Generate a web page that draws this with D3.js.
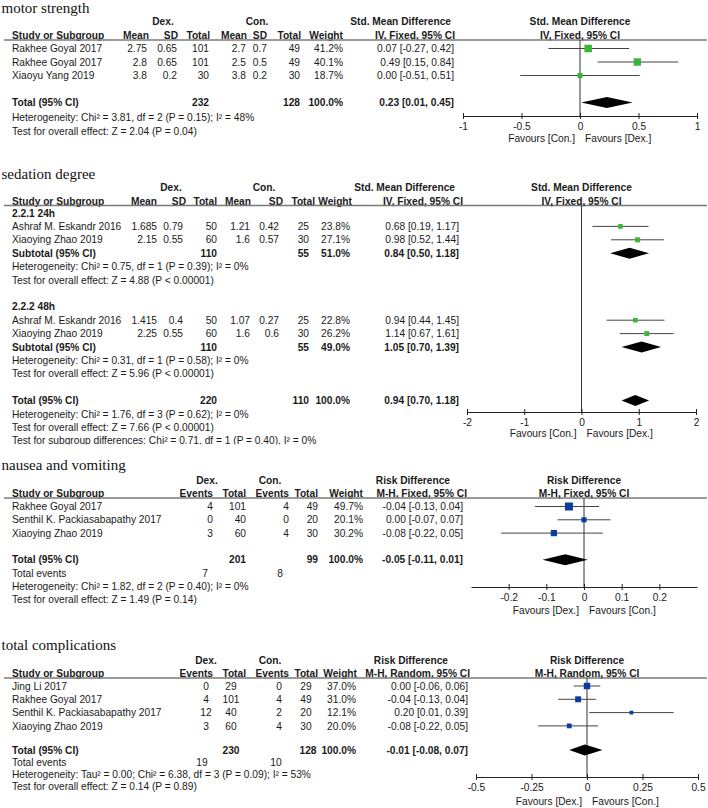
<!DOCTYPE html>
<html>
<head>
<meta charset="utf-8">
<script src="https://cdn.jsdelivr.net/npm/d3@7"></script>
<style>
body { margin: 0; background: #fff; }
svg text { font-family: "Liberation Sans", Arial, sans-serif; font-size: 10.2px; fill: #1a1a1a; }
svg text.title { font-family: "Liberation Serif", "Times New Roman", serif; font-size: 15px; fill: #111; }
</style>
</head>
<body>
<script>
// ---- motor strength (std. mean difference, IV fixed) ----
var msStudy = ["Rakhee Goyal 2017", "Rakhee Goyal 2017", "Xiaoyu Yang 2019"];
var msDexMean = [2.75, 2.8, 3.8];
var msDexSD = [0.65, 0.65, 0.2];
var msDexN = [101, 101, 30];
var msConMean = [2.7, 2.5, 3.8];
var msConSD = [0.7, 0.5, 0.2];
var msConN = [49, 49, 30];
var msWeight = [41.2, 40.1, 18.7];
var msEst = [0.07, 0.49, 0.00];
var msLow = [-0.27, 0.15, -0.51];
var msHigh = [0.42, 0.84, 0.51];
var msTotal = [232, 128, 100.0, 0.23, 0.01, 0.45];
var msNotes = ["Heterogeneity: Chi² = 3.81, df = 2 (P = 0.15); I² = 48%",
               "Test for overall effect: Z = 2.04 (P = 0.04)"];
var msTicks = [-1, -0.5, 0, 0.5, 1];

// ---- sedation degree (subgroups 24h / 48h) ----
var sdGroups = ["2.2.1 24h", "2.2.2 48h"];
var sdStudy = ["Ashraf M. Eskandr 2016", "Xiaoying Zhao 2019", "Ashraf M. Eskandr 2016", "Xiaoying Zhao 2019"];
var sdGroupOf = [0, 0, 1, 1];
var sdDexMean = [1.685, 2.15, 1.415, 2.25];
var sdDexSD = [0.79, 0.55, 0.4, 0.55];
var sdDexN = [50, 60, 50, 60];
var sdConMean = [1.21, 1.6, 1.07, 1.6];
var sdConSD = [0.42, 0.57, 0.27, 0.6];
var sdConN = [25, 30, 25, 30];
var sdWeight = [23.8, 27.1, 22.8, 26.2];
var sdEst = [0.68, 0.98, 0.94, 1.14];
var sdLow = [0.19, 0.52, 0.44, 0.67];
var sdHigh = [1.17, 1.44, 1.45, 1.61];
var sdSubDexN = [110, 110];
var sdSubConN = [55, 55];
var sdSubWeight = [51.0, 49.0];
var sdSubEst = [0.84, 1.05];
var sdSubLow = [0.50, 0.70];
var sdSubHigh = [1.18, 1.39];
var sdSubNotes = [
  ["Heterogeneity: Chi² = 0.75, df = 1 (P = 0.39); I² = 0%", "Test for overall effect: Z = 4.88 (P < 0.00001)"],
  ["Heterogeneity: Chi² = 0.31, df = 1 (P = 0.58); I² = 0%", "Test for overall effect: Z = 5.96 (P < 0.00001)"]
];
var sdTotal = [220, 110, 100.0, 0.94, 0.70, 1.18];
var sdNotes = ["Heterogeneity: Chi² = 1.76, df = 3 (P = 0.62); I² = 0%",
               "Test for overall effect: Z = 7.66 (P < 0.00001)",
               "Test for subgroup differences: Chi² = 0.71, df = 1 (P = 0.40), I² = 0%"];
var sdTicks = [-2, -1, 0, 1, 2];

// ---- nausea and vomiting (risk difference, M-H fixed) ----
var nvStudy = ["Rakhee Goyal 2017", "Senthil K. Packiasabapathy 2017", "Xiaoying Zhao 2019"];
var nvDexEv = [4, 0, 3];
var nvDexN = [101, 40, 60];
var nvConEv = [4, 0, 4];
var nvConN = [49, 20, 30];
var nvWeight = [49.7, 20.1, 30.2];
var nvEst = [-0.04, 0.00, -0.08];
var nvLow = [-0.13, -0.07, -0.22];
var nvHigh = [0.04, 0.07, 0.05];
var nvTotal = [201, 99, 100.0, -0.05, -0.11, 0.01];
var nvEvents = [7, 8];
var nvNotes = ["Heterogeneity: Chi² = 1.82, df = 2 (P = 0.40); I² = 0%",
               "Test for overall effect: Z = 1.49 (P = 0.14)"];
var nvTicks = [-0.2, -0.1, 0, 0.1, 0.2];

// ---- total complications (risk difference, M-H random) ----
var tcStudy = ["Jing Li 2017", "Rakhee Goyal 2017", "Senthil K. Packiasabapathy 2017", "Xiaoying Zhao 2019"];
var tcDexEv = [0, 4, 12, 3];
var tcDexN = [29, 101, 40, 60];
var tcConEv = [0, 4, 2, 4];
var tcConN = [29, 49, 20, 30];
var tcWeight = [37.0, 31.0, 12.1, 20.0];
var tcEst = [0.00, -0.04, 0.20, -0.08];
var tcLow = [-0.06, -0.13, 0.01, -0.22];
var tcHigh = [0.06, 0.04, 0.39, 0.05];
var tcTotal = [230, 128, 100.0, -0.01, -0.08, 0.07];
var tcEvents = [19, 10];
var tcNotes = ["Heterogeneity: Tau² = 0.00; Chi² = 6.38, df = 3 (P = 0.09); I² = 53%",
               "Test for overall effect: Z = 0.14 (P = 0.89)"];
var tcTicks = [-0.5, -0.25, 0, 0.25, 0.5];

var contHeaders = ["Mean", "SD", "Total", "Mean", "SD", "Total", "Weight", "IV, Fixed, 95% CI"];
var dichHeaders = ["Events", "Total", "Events", "Total", "Weight"];

var green = "#3cb43c", blue = "#0d3c9e";

var svg = d3.select("body").append("svg")
    .attr("width", 708)
    .attr("height", 808);

function ci(e, l, h) { return e.toFixed(2) + " [" + l.toFixed(2) + ", " + h.toFixed(2) + "]"; }
function pct(w) { return w.toFixed(1) + "%"; }

// one piece of text, y is the visual middle of the line
function label(g, x, y, s, anchor, bold) {
    return g.append("text")
        .attr("x", x)
        .attr("y", y + 3.6)
        .attr("text-anchor", anchor || "start")
        .attr("font-weight", bold ? "bold" : null)
        .text(s);
}

// a table row: first cell left, others at xs with anchors
function row(g, y, cells, xs, anchors, bold) {
    label(g, 12, y, cells[0], "start", bold);
    cells.slice(1).forEach(function(c, i) {
        if (c !== "") label(g, xs[i], y, c, anchors[i] || "end", bold);
    });
}

function header(g, o) {
    g.append("text").attr("class", "title").attr("x", 1.5).attr("y", o.titleY).text(o.title);
    label(g, o.dexX, o.h1, "Dex.", "middle", true);
    label(g, o.conX, o.h1, "Con.", "middle", true);
    label(g, o.effX, o.h1, o.effect, "end", true);
    label(g, 12, o.h2, "Study or Subgroup", "start", true);
    o.headers.forEach(function(h, i) { label(g, o.hx[i], o.h2, h, "end", true); });
    g.append("line")
        .attr("x1", 4).attr("x2", 707)
        .attr("y1", o.lineY).attr("y2", o.lineY)
        .attr("stroke", "#7a7a7a").attr("stroke-width", 1.5);
}

// forest plot part: zero line, CI lines, squares, diamonds, axis
function plot(g, o) {
    var x = d3.scaleLinear().domain(o.domain).range(o.range);
    var size = d3.scaleSqrt().domain([0, d3.max(o.studies, function(d) { return d.w; })]).range([0, o.maxSide]);
    var cx = (o.range[0] + o.range[1]) / 2;

    label(g, cx, o.h1, o.effect, "middle", true);
    label(g, cx, o.h2, o.method, "middle", true);

    g.append("line")
        .attr("x1", x(0)).attr("x2", x(0))
        .attr("y1", o.lineY).attr("y2", o.axisY)
        .attr("stroke", "#333");

    g.selectAll(".ci")
        .data(o.studies)
        .enter().append("line")
        .attr("class", "ci")
        .attr("x1", function(d) { return x(d.lo); })
        .attr("x2", function(d) { return x(d.hi); })
        .attr("y1", function(d) { return d.y; })
        .attr("y2", function(d) { return d.y; })
        .attr("stroke", "#444");

    g.selectAll(".sq")
        .data(o.studies)
        .enter().append("rect")
        .attr("class", "sq")
        .attr("x", function(d) { return x(d.est) - size(d.w) / 2; })
        .attr("y", function(d) { return d.y - size(d.w) / 2; })
        .attr("width", function(d) { return size(d.w); })
        .attr("height", function(d) { return size(d.w); })
        .attr("fill", o.color);

    g.selectAll(".dia")
        .data(o.diamonds)
        .enter().append("path")
        .attr("class", "dia")
        .attr("d", function(d) {
            return "M" + x(d.lo) + "," + d.y + "L" + x(d.est) + "," + (d.y - 5.5) +
                   "L" + x(d.hi) + "," + d.y + "L" + x(d.est) + "," + (d.y + 5.5) + "Z";
        })
        .attr("fill", "#000");

    var axis = d3.axisBottom(x)
        .tickValues(o.ticks)
        .tickSize(3)
        .tickSizeOuter(0)
        .tickPadding(4)
        .tickFormat(function(d) { return String(d); });
    var ag = g.append("g")
        .attr("transform", "translate(0," + o.axisY + ")")
        .call(axis);
    ag.select(".domain").attr("stroke", "#222");
    ag.selectAll(".tick line").attr("y1", -3).attr("y2", 3).attr("stroke", "#222");

    label(g, x(0) - 5, o.axisY + o.favY, o.favours[0], "end");
    label(g, x(0) + 5, o.axisY + o.favY, o.favours[1], "start");
}

function studies(est, lo, hi, w, ys) {
    return est.map(function(e, i) { return { est: e, lo: lo[i], hi: hi[i], w: w[i], y: ys[i] }; });
}

// ================= panel 1 =================
(function() {
    var g = svg.append("g");
    var xs = [147, 177, 209, 246, 267, 300, 343, 454];
    var ys = [48.5, 62, 75.5];
    var totY = 102.5;
    header(g, { title: "motor strength", titleY: 12.5, h1: 21, h2: 35, lineY: 40,
        dexX: 163, conX: 257, effX: 451, effect: "Std. Mean Difference",
        headers: contHeaders, hx: [149, 178, 210, 247, 267, 301, 343, 455] });
    msStudy.forEach(function(s, i) {
        row(g, ys[i], [s, String(msDexMean[i]), String(msDexSD[i]), String(msDexN[i]),
            String(msConMean[i]), String(msConSD[i]), String(msConN[i]), pct(msWeight[i]),
            ci(msEst[i], msLow[i], msHigh[i])], xs, []);
    });
    row(g, totY, ["Total (95% CI)", "", "", String(msTotal[0]), "", "", String(msTotal[1]),
        pct(msTotal[2]), ci(msTotal[3], msTotal[4], msTotal[5])], xs, [], true);
    label(g, 12, 117, msNotes[0]);
    label(g, 12, 131, msNotes[1]);
    plot(g, { domain: [-1, 1], range: [463, 697], h1: 21, h2: 35, lineY: 40, axisY: 116, favY: 22,
        effect: "Std. Mean Difference", method: "IV, Fixed, 95% CI", ticks: msTicks,
        favours: ["Favours [Con.]", "Favours [Dex.]"], color: green, maxSide: 7.5,
        studies: studies(msEst, msLow, msHigh, msWeight, ys),
        diamonds: [{ y: totY, est: msTotal[3], lo: msTotal[4], hi: msTotal[5] }] });
})();

// ================= panel 2 =================
(function() {
    svg.append("defs").append("clipPath").attr("id", "clip2")
        .append("rect").attr("x", 0).attr("y", 150).attr("width", 708).attr("height", 294.5);
    var g = svg.append("g").attr("clip-path", "url(#clip2)");
    var xs = [157, 183, 217, 250, 279, 309, 350, 459];
    var ry = function(i) { return 213 + 13.4 * i; };
    header(g, { title: "sedation degree", titleY: 179, h1: 187.5, h2: 201.5, lineY: 205.5,
        dexX: 171, conX: 264, effX: 455, effect: "Std. Mean Difference",
        headers: contHeaders, hx: [157, 186, 217, 251, 283, 315, 352, 463] });
    var ys = [], subYs = [];
    sdGroups.forEach(function(grp, k) {
        var base = k * 7;
        label(g, 12, ry(base), grp, "start", true);
        var j = 0;
        sdStudy.forEach(function(s, i) {
            if (sdGroupOf[i] !== k) return;
            j++;
            ys[i] = ry(base + j);
            row(g, ys[i], [s, String(sdDexMean[i]), String(sdDexSD[i]), String(sdDexN[i]),
                String(sdConMean[i]), String(sdConSD[i]), String(sdConN[i]), pct(sdWeight[i]),
                ci(sdEst[i], sdLow[i], sdHigh[i])], xs, []);
        });
        subYs[k] = ry(base + j + 1);
        row(g, subYs[k], ["Subtotal (95% CI)", "", "", String(sdSubDexN[k]), "", "", String(sdSubConN[k]),
            pct(sdSubWeight[k]), ci(sdSubEst[k], sdSubLow[k], sdSubHigh[k])], xs, [], true);
        label(g, 12, ry(base + j + 2), sdSubNotes[k][0]);
        label(g, 12, ry(base + j + 3), sdSubNotes[k][1]);
    });
    var totY = ry(14);
    row(g, totY, ["Total (95% CI)", "", "", String(sdTotal[0]), "", "", String(sdTotal[1]),
        pct(sdTotal[2]), ci(sdTotal[3], sdTotal[4], sdTotal[5])], xs, [], true);
    sdNotes.forEach(function(n, i) { label(g, 12, ry(15 + i), n); });
    var dia = sdSubEst.map(function(e, k) { return { y: subYs[k], est: e, lo: sdSubLow[k], hi: sdSubHigh[k] }; });
    dia.push({ y: totY, est: sdTotal[3], lo: sdTotal[4], hi: sdTotal[5] });
    plot(g, { domain: [-2, 2], range: [467, 696], h1: 187.5, h2: 201.5, lineY: 205.5, axisY: 412, favY: 21,
        effect: "Std. Mean Difference", method: "IV, Fixed, 95% CI", ticks: sdTicks,
        favours: ["Favours [Con.]", "Favours [Dex.]"], color: green, maxSide: 5,
        studies: studies(sdEst, sdLow, sdHigh, sdWeight, ys), diamonds: dia });
})();

// ================= panel 3 =================
(function() {
    var g = svg.append("g");
    var xs = [213, 246, 289, 318, 363, 463];
    var ry = function(i) { return 506.5 + 13.3 * i; };
    header(g, { title: "nausea and vomiting", titleY: 470, h1: 480, h2: 493, lineY: 498,
        dexX: 207, conX: 270, effX: 450, effect: "Risk Difference",
        headers: dichHeaders.concat(["M-H, Fixed, 95% CI"]), hx: [213, 246, 289, 318, 363, 467] });
    var ys = nvStudy.map(function(s, i) { return ry(i); });
    nvStudy.forEach(function(s, i) {
        row(g, ys[i], [s, String(nvDexEv[i]), String(nvDexN[i]), String(nvConEv[i]), String(nvConN[i]),
            pct(nvWeight[i]), ci(nvEst[i], nvLow[i], nvHigh[i])], xs, []);
    });
    var totY = ry(4);
    row(g, totY, ["Total (95% CI)", "", String(nvTotal[0]), "", String(nvTotal[1]),
        pct(nvTotal[2]), ci(nvTotal[3], nvTotal[4], nvTotal[5])], xs, [], true);
    row(g, ry(5), ["Total events", String(nvEvents[0]), "", String(nvEvents[1])], [208, 246, 283], []);
    label(g, 12, ry(6), nvNotes[0]);
    label(g, 12, ry(7), nvNotes[1]);
    plot(g, { domain: [-0.3, 0.3], range: [471, 697], h1: 480, h2: 493, lineY: 498, axisY: 587, favY: 23,
        effect: "Risk Difference", method: "M-H, Fixed, 95% CI", ticks: nvTicks,
        favours: ["Favours [Dex.]", "Favours [Con.]"], color: blue, maxSide: 8,
        studies: studies(nvEst, nvLow, nvHigh, nvWeight, ys),
        diamonds: [{ y: totY, est: nvTotal[3], lo: nvTotal[4], hi: nvTotal[5] }] });
})();

// ================= panel 4 =================
(function() {
    var g = svg.append("g");
    var xs = [206, 231, 279, 306, 356, 468];
    var an = ["middle", "middle", "middle", "middle", "end", "end"];
    var ys = [686, 699.3, 712.6, 725.9];
    var totY = 750;
    header(g, { title: "total complications", titleY: 650, h1: 660.5, h2: 673, lineY: 678,
        dexX: 206, conX: 270, effX: 448, effect: "Risk Difference",
        headers: dichHeaders.concat(["M-H, Random, 95% CI"]), hx: [213, 246, 289, 318, 357, 470] });
    tcStudy.forEach(function(s, i) {
        row(g, ys[i], [s, String(tcDexEv[i]), String(tcDexN[i]), String(tcConEv[i]), String(tcConN[i]),
            pct(tcWeight[i]), ci(tcEst[i], tcLow[i], tcHigh[i])], xs, an);
    });
    row(g, totY, ["Total (95% CI)", "", String(tcTotal[0]), "", String(tcTotal[1]),
        pct(tcTotal[2]), ci(tcTotal[3], tcTotal[4], tcTotal[5])], [206, 231, 279, 308, 356, 468], an, true);
    row(g, 762, ["Total events", String(tcEvents[0]), "", String(tcEvents[1])], [202, 231, 276], an);
    label(g, 12, 774, tcNotes[0]);
    label(g, 12, 786, tcNotes[1]);
    plot(g, { domain: [-0.5, 0.5], range: [476, 698], h1: 660.5, h2: 673, lineY: 678, axisY: 777, favY: 24,
        effect: "Risk Difference", method: "M-H, Random, 95% CI", ticks: tcTicks,
        favours: ["Favours [Dex.]", "Favours [Con.]"], color: blue, maxSide: 6.5,
        studies: studies(tcEst, tcLow, tcHigh, tcWeight, ys),
        diamonds: [{ y: totY, est: tcTotal[3], lo: tcTotal[4], hi: tcTotal[5] }] });
})();
</script>
</body>
</html>
